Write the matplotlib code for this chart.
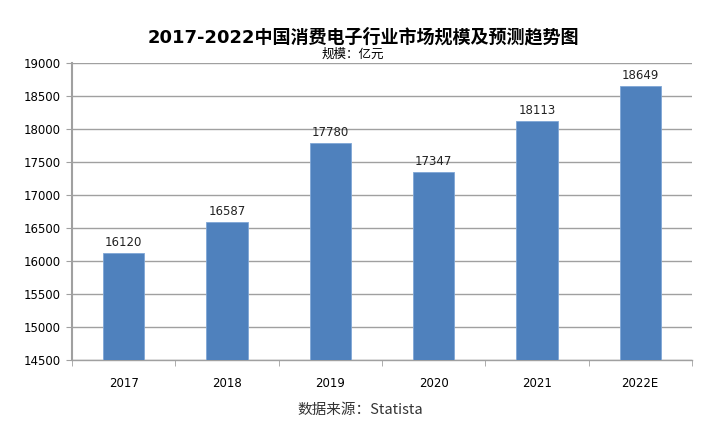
import matplotlib
matplotlib.use("Agg")
import matplotlib.pyplot as plt
import numpy as np

plt.rcParams['font.family'] = ['DejaVu Sans', 'Noto Sans CJK SC']

years = ['2017', '2018', '2019', '2020', '2021', '2022E']
market_size = [16120, 16587, 17780, 17347, 18113, 18649]
y_ticks = [14500, 15000, 15500, 16000, 16500, 17000, 17500, 18000, 18500, 19000]

title = '2017-2022中国消费电子行业市场规模及预测趋势图'
subtitle = '规模：亿元'
source = '数据来源：Statista'

bar_color = '#4F81BD'
grid_color = '#A0A0A0'

fig = plt.figure(figsize=(7.06, 4.25), dpi=100)
ax = fig.add_axes([0.102, 0.153, 0.878, 0.699])

x = np.arange(len(years))
bars = ax.bar(x, market_size, width=0.4, color=bar_color, zorder=3,
              edgecolor='#7FA6D6', linewidth=0.6)

for xi, v in zip(x, market_size):
    ax.text(xi, v + 60, str(v), ha='center', va='bottom', fontsize=8.5,
            color='#222222')

ax.set_ylim(14500, 19000)
ax.set_xlim(-0.5, len(years) - 0.5)
ax.set_yticks(y_ticks)
ax.set_yticklabels([str(t) for t in y_ticks], fontsize=8.5)
ax.yaxis.grid(True, color=grid_color, linewidth=1.0, zorder=0)

ax.set_xticks(x)
ax.set_xticklabels(years, fontsize=8.5)
ax.set_xticks(np.arange(-0.5, len(years)), minor=True)
ax.tick_params(axis='x', which='major', length=0, pad=12)
ax.tick_params(axis='x', which='minor', length=4, color=grid_color,
               direction='out')
ax.tick_params(axis='y', length=4, color=grid_color, pad=4)

for side in ['top', 'right']:
    ax.spines[side].set_visible(False)
ax.spines['left'].set_color(grid_color)
ax.spines['left'].set_linewidth(1.5)
ax.spines['bottom'].set_color(grid_color)
ax.spines['bottom'].set_linewidth(1.0)

fig.text(0.515, 0.913, title, ha='center', va='center', fontsize=13,
         fontweight='bold', family=['DejaVu Sans', 'Noto Sans CJK SC'])
fig.text(0.5, 0.873, subtitle, ha='center', va='center', fontsize=9,
         family=['Noto Sans CJK SC', 'DejaVu Sans'])
fig.text(0.51, 0.035, source, ha='center', va='center', fontsize=10.5,
         color='#333333', family=['Noto Sans CJK SC', 'DejaVu Sans'])

fig.savefig('out.png', dpi=100)
